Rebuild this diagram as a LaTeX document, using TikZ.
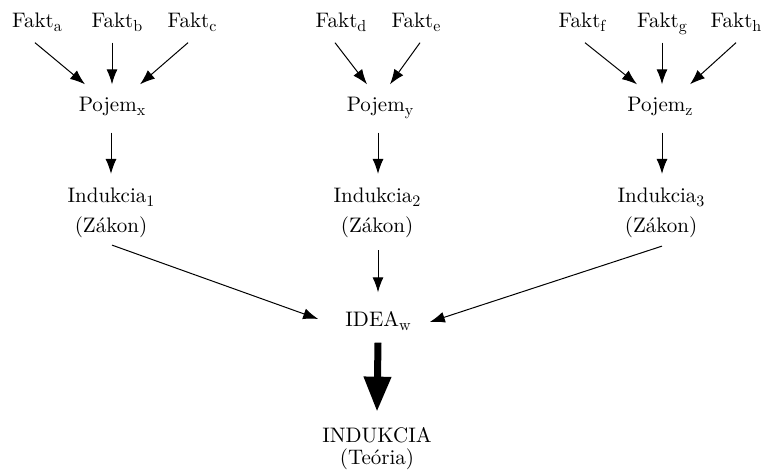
\documentclass[tikz,border=0pt]{standalone}
\usepackage{fontspec}
\newfontfamily\lbfont{lmroman10-regular.otf}
\newcommand\lsub[1]{\raisebox{-4pt}{\fontsize{16}{16}\selectfont #1}}
\usetikzlibrary{arrows.meta}
\begin{document}
\begin{tikzpicture}[x=1pt,y=-1pt,>={Latex[length=15pt,width=11pt]},
    lbl/.style={inner sep=3pt,font=\lbfont\fontsize{21}{30}\selectfont,align=center},
    one/.style={lbl,text height=14pt,text depth=5pt},
    arr/.style={->,line width=1pt},
    bigarr/.style={-{Triangle[length=35pt,width=26pt]},line width=7pt}]
    \useasboundingbox (0,0) rectangle (765,476);
    % --- facts and concepts
    \node[one] (fa) at (37,23) {Fakt\lsub{a}};
    \node[one] (fb) at (117,23) {Fakt\lsub{b}};
    \node[one] (fc) at (192,23) {Fakt\lsub{c}};
    \node[one] (fd) at (341,23) {Fakt\lsub{d}};
    \node[one] (fe) at (416,23) {Fakt\lsub{e}};
    \node[one] (ff) at (582,23) {Fakt\lsub{f}};
    \node[one] (fg) at (662,23) {Fakt\lsub{g}};
    \node[one] (fh) at (736,23) {Fakt\lsub{h}};
    \node[one] (px) at (112,107) {Pojem\lsub{x}};
    \node[one] (py) at (380,107) {Pojem\lsub{y}};
    \node[one] (pz) at (660,107) {Pojem\lsub{z}};
    % --- laws
    \node[lbl] (ix) at (111,213) {Indukcia\lsub{1}\\(Zákon)};
    \node[lbl] (iy) at (377,213) {Indukcia\lsub{2}\\(Zákon)};
    \node[lbl] (iz) at (661,213) {Indukcia\lsub{3}\\(Zákon)};
    \node[one] (idea) at (378,322) {IDEA\lsub{w}};
    \node[lbl,font=\lbfont\fontsize{21}{22}\selectfont] (ind) at (377,449) {INDUKCIA\\(Teória)};
    % --- facts to concepts
    \draw[arr] ([xshift=-2pt,yshift=-7pt]fa.south) -- ([xshift=-27pt,yshift=10pt]px.north);
    \draw[arr] ([xshift=-5pt,yshift=-7pt]fb.south) -- ([yshift=10pt]px.north);
    \draw[arr] ([xshift=-4pt,yshift=-7pt]fc.south) -- ([xshift=28pt,yshift=10pt]px.north);
    \draw[arr] ([xshift=-6pt,yshift=-7pt]fd.south) -- ([xshift=-13pt,yshift=10pt]py.north);
    \draw[arr] ([xshift=4pt,yshift=-7pt]fe.south) -- ([xshift=10pt,yshift=10pt]py.north);
    \draw[arr] ([xshift=3pt,yshift=-7pt]ff.south) -- ([xshift=-23pt,yshift=10pt]pz.north);
    \draw[arr] ([yshift=-7pt]fg.south) -- ([xshift=2pt,yshift=10pt]pz.north);
    \draw[arr] ([yshift=-7pt]fh.south) -- ([xshift=30pt,yshift=10pt]pz.north);
    % --- concepts to laws
    \draw[arr] ([xshift=-1pt,yshift=-13pt]px.south) -- ([yshift=11pt]ix.north);
    \draw[arr] ([xshift=-2pt,yshift=-13pt]py.south) -- ([xshift=1pt,yshift=11pt]iy.north);
    \draw[arr] ([xshift=2pt,yshift=-13pt]pz.south) -- ([xshift=1pt,yshift=11pt]iz.north);
    % --- laws to the idea
    \draw[arr] ([xshift=1pt,yshift=-4pt]ix.south) -- ([xshift=-24pt,yshift=3pt]idea.west);
    \draw[arr] ([xshift=1pt,yshift=-9pt]iy.south) -- ([yshift=17pt]idea.north);
    \draw[arr] ([xshift=1pt,yshift=-5pt]iz.south) -- ([xshift=16pt]idea.east);
    \draw[bigarr] ([yshift=-8pt]idea.south) -- ([yshift=13pt]ind.north);
\end{tikzpicture}
\end{document}
